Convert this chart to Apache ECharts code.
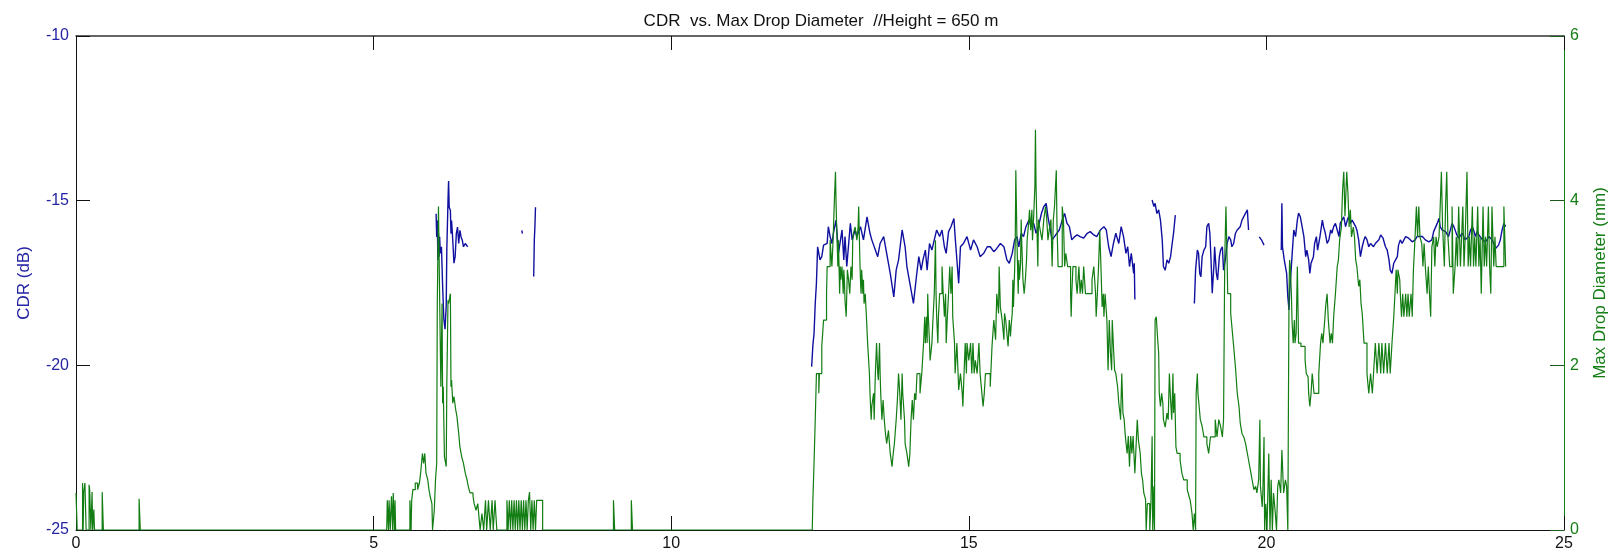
<!DOCTYPE html>
<html>
<head>
<meta charset="utf-8">
<script src="https://cdn.jsdelivr.net/npm/echarts@6/dist/echarts.min.js"></script>
<style>
html,body{margin:0;padding:0;background:#fff;}
#chart{width:1618px;height:556px;}
</style>
</head>
<body>
<div id="chart"></div>
<script>
// Time of day (h) and circular depolarization ratio (dB), one array per continuous stretch
const cdrShowerA = [[6.05,-15.4],[6.06,-16.1],[6.07,-15.6],[6.08,-16.8],[6.09,-16.0],[6.10,-16.7],[6.11,-16.1],[6.12,-16.6],[6.14,-16.4],[6.16,-17.6],[6.18,-18.6],[6.20,-18.9],[6.22,-18.2],[6.23,-16.5],[6.25,-15.0],[6.26,-14.4],[6.27,-15.2],[6.29,-15.3],[6.30,-16.0],[6.31,-15.6],[6.33,-16.2],[6.35,-16.9],[6.37,-16.7],[6.39,-16.0],[6.41,-15.8],[6.43,-16.3],[6.45,-15.9],[6.47,-16.1],[6.49,-16.2],[6.51,-16.4],[6.54,-16.3],[6.58,-16.4]];
const cdrShowerB = [[7.49,-15.9],[7.50,-16.0]];
const cdrShowerC = [[7.69,-17.3],[7.70,-16.2],[7.71,-15.8],[7.72,-15.2]];
const cdrEventA = [[12.36,-20.04],[12.38,-19.4],[12.40,-19.03],[12.42,-18.12],[12.44,-17.51],[12.46,-16.40],[12.48,-16.60],[12.50,-16.80],[12.53,-16.70],[12.56,-16.35],[12.62,-16.30],[12.64,-15.79],[12.67,-16.09],[12.70,-16.30],[12.73,-15.94],[12.77,-15.59],[12.81,-16.60],[12.87,-15.89],[12.90,-16.80],[12.92,-16.09],[12.95,-17.00],[13.01,-15.69],[13.04,-16.19],[13.09,-15.89],[13.12,-16.09],[13.18,-15.79],[13.23,-16.19],[13.29,-15.49],[13.34,-15.99],[13.37,-16.19],[13.43,-16.50],[13.47,-16.70],[13.51,-16.30],[13.57,-16.09],[13.62,-16.60],[13.68,-17.21],[13.74,-17.92],[13.78,-17.11],[13.82,-16.80],[13.88,-15.89],[13.93,-16.40],[13.96,-17.00],[14.02,-17.61],[14.07,-18.12],[14.12,-17.31],[14.16,-16.70],[14.20,-17.11],[14.23,-16.80],[14.27,-16.50],[14.30,-17.11],[14.34,-16.30],[14.38,-16.50],[14.42,-16.19],[14.46,-15.89],[14.51,-16.09],[14.55,-15.89],[14.59,-16.40],[14.62,-16.60],[14.66,-15.94],[14.70,-15.79],[14.75,-15.54],[14.77,-16.09],[14.80,-16.80],[14.83,-17.51],[14.86,-16.40],[14.91,-16.30],[14.97,-16.09],[15.03,-16.50],[15.08,-16.19],[15.14,-16.40],[15.19,-16.70],[15.25,-16.60],[15.31,-16.40],[15.36,-16.40],[15.42,-16.55],[15.47,-16.45],[15.53,-16.30],[15.59,-16.40],[15.64,-16.80],[15.68,-16.90],[15.73,-16.60],[15.77,-16.19],[15.81,-16.09],[15.84,-16.40],[15.88,-15.99],[15.92,-16.09],[15.96,-15.79],[16.01,-15.59],[16.05,-15.79],[16.09,-15.69],[16.13,-15.99],[16.17,-15.79],[16.22,-15.39],[16.26,-15.18],[16.30,-15.08],[16.33,-15.49],[16.37,-15.89],[16.40,-16.19],[16.44,-16.09],[16.48,-15.99],[16.52,-15.89],[16.57,-15.59],[16.61,-15.39],[16.65,-15.69],[16.69,-15.79],[16.73,-16.19],[16.78,-16.09],[16.82,-16.04],[16.87,-16.09],[16.93,-16.14],[16.99,-15.99],[17.04,-15.94],[17.10,-16.04],[17.15,-16.09],[17.21,-15.89],[17.27,-15.79],[17.31,-15.89],[17.35,-16.40],[17.39,-16.70],[17.43,-16.30],[17.47,-15.99],[17.52,-16.30],[17.56,-15.79],[17.60,-16.09],[17.64,-16.60],[17.67,-16.40],[17.70,-17.00],[17.73,-16.60],[17.77,-17.21],[17.78,-16.90],[17.79,-18.00]];
const cdrEventB = [[18.08,-14.98],[18.11,-15.18],[18.13,-15.08],[18.16,-15.39],[18.19,-15.28],[18.22,-15.59],[18.25,-16.19],[18.27,-17.00],[18.30,-17.11],[18.33,-16.80],[18.36,-16.90],[18.39,-16.70],[18.41,-16.40],[18.44,-15.99],[18.47,-15.44]];
const cdrEventC = [[18.79,-18.12],[18.81,-17.11],[18.84,-16.50],[18.86,-16.60],[18.88,-17.21],[18.90,-17.31],[18.92,-16.70],[18.95,-16.50],[18.98,-16.40],[19.00,-15.79],[19.03,-15.69],[19.05,-15.99],[19.07,-16.80],[19.09,-17.81],[19.12,-16.90],[19.13,-16.40],[19.16,-17.21],[19.18,-17.41],[19.21,-16.70],[19.23,-16.50],[19.26,-16.40],[19.28,-17.11],[19.31,-16.80],[19.34,-16.30],[19.37,-16.09],[19.40,-16.19],[19.42,-16.40],[19.45,-16.30],[19.48,-15.99],[19.51,-15.89],[19.54,-15.94],[19.56,-15.79],[19.59,-15.59],[19.62,-15.54],[19.65,-15.38],[19.68,-15.28],[19.70,-15.89]];
const cdrEventD = [[19.88,-16.10],[19.92,-16.20],[19.96,-16.35]];
const cdrEventE = [[20.25,-16.50],[20.26,-15.08],[20.27,-16.40],[20.30,-16.80],[20.34,-17.21],[20.36,-17.92],[20.38,-18.32],[20.39,-17.81],[20.43,-16.70],[20.46,-15.89],[20.49,-16.09],[20.52,-15.59],[20.54,-15.38],[20.57,-15.49],[20.60,-15.79],[20.63,-16.09],[20.66,-16.70],[20.68,-16.50],[20.71,-16.80],[20.73,-17.21],[20.75,-16.90],[20.79,-16.70],[20.81,-16.30],[20.84,-16.09],[20.86,-16.50],[20.90,-16.09],[20.94,-15.59],[20.96,-15.79],[20.99,-15.99],[21.02,-16.30],[21.05,-16.19],[21.08,-15.89],[21.10,-15.99],[21.13,-15.79],[21.16,-15.69],[21.19,-15.89],[21.22,-16.09],[21.24,-15.69],[21.27,-15.59],[21.30,-15.49],[21.33,-15.79],[21.36,-15.59],[21.38,-15.49],[21.41,-15.69],[21.44,-15.59],[21.47,-15.69],[21.50,-15.79],[21.52,-15.89],[21.55,-16.19],[21.58,-16.70],[21.61,-16.40],[21.64,-16.19],[21.66,-16.09],[21.69,-16.19],[21.72,-16.40],[21.75,-16.30],[21.80,-16.40],[21.83,-16.30],[21.89,-16.19],[21.92,-16.04],[21.96,-16.14],[22.00,-16.40],[22.03,-16.50],[22.06,-16.80],[22.08,-17.11],[22.11,-17.21],[22.14,-16.90],[22.17,-16.80],[22.20,-16.70],[22.22,-16.35],[22.25,-16.19],[22.28,-16.30],[22.31,-16.19],[22.34,-16.09],[22.36,-16.04],[22.39,-16.14],[22.42,-16.19],[22.45,-16.25],[22.48,-16.30],[22.50,-16.19],[22.53,-16.09],[22.56,-16.04],[22.62,-16.09],[22.67,-16.19],[22.73,-16.25],[22.78,-16.19],[22.81,-15.94],[22.84,-15.89],[22.87,-15.69],[22.90,-15.54],[22.92,-15.79],[22.95,-15.89],[23.01,-15.94],[23.06,-16.09],[23.12,-15.69],[23.15,-15.79],[23.18,-15.94],[23.20,-16.04],[23.23,-16.14],[23.26,-16.09],[23.29,-15.99],[23.34,-16.19],[23.40,-16.09],[23.43,-15.89],[23.46,-15.79],[23.49,-15.94],[23.51,-16.09],[23.54,-15.94],[23.57,-16.04],[23.60,-16.09],[23.63,-16.19],[23.68,-16.25],[23.74,-16.09],[23.79,-16.19],[23.82,-16.30],[23.85,-16.45],[23.88,-16.50],[23.90,-16.35],[23.93,-16.19],[23.96,-15.89],[23.99,-15.69],[24.02,-15.79]];

// Time of day (h) and maximum drop diameter (mm); each value holds until the next sample
const diamEarly = [[0.00,0.45],[0.02,0],[0.11,0.57],[0.12,0],[0.13,0.46],[0.15,0.57],[0.17,0],[0.22,0.55],[0.23,0.49],[0.25,0],[0.27,0.46],[0.28,0],[0.30,0.25],[0.31,0],[0.44,0.46],[0.46,0],[1.06,0.38],[1.08,0],[5.22,0]];
const diamShower = [[5.23,0.36],[5.25,0],[5.26,0.36],[5.28,0],[5.30,0.41],[5.32,0],[5.33,0.45],[5.35,0],[5.36,0.36],[5.37,0],[5.61,0.36],[5.63,0],[5.64,0.36],[5.66,0.49],[5.70,0.57],[5.74,0.49],[5.77,0.57],[5.79,0.69],[5.82,0.93],[5.84,0.81],[5.86,0.93],[5.88,0.69],[5.91,0.61],[5.93,0.49],[5.95,0.41],[5.98,0.32],[5.99,0],[6.02,0.24],[6.04,0.61],[6.06,0.81],[6.07,2.75],[6.09,3.93],[6.11,2.79],[6.13,1.74],[6.15,2.75],[6.16,1.54],[6.17,1.74],[6.19,0.89],[6.22,0.77],[6.23,1.74],[6.25,2.79],[6.26,2.75],[6.29,2.87],[6.30,1.74],[6.31,1.82],[6.33,1.54],[6.35,1.62],[6.38,1.46],[6.40,1.38],[6.43,1.17],[6.45,1.01],[6.48,0.89],[6.51,0.81],[6.54,0.69],[6.57,0.61],[6.59,0.53],[6.62,0.45],[6.67,0.41],[6.69,0.32],[6.72,0.24],[6.75,0.32],[6.77,0.16],[6.79,0],[6.82,0.20],[6.85,0],[6.88,0.36],[6.90,0],[6.93,0.36],[6.96,0],[6.99,0.36],[7.01,0],[7.04,0.36],[7.07,0],[7.24,0.36],[7.26,0],[7.28,0.36],[7.30,0],[7.32,0.36],[7.34,0],[7.36,0.36],[7.38,0],[7.40,0.36],[7.42,0],[7.44,0.36],[7.46,0],[7.48,0.36],[7.50,0],[7.52,0.36],[7.54,0],[7.56,0.36],[7.58,0],[7.60,0.36],[7.62,0.46],[7.64,0],[7.66,0.36],[7.68,0],[7.70,0.36],[7.72,0],[7.74,0.36],[7.84,0],[9.03,0.36],[9.05,0],[9.33,0.36],[9.35,0]];
const diamEventA = [[12.37,0],[12.38,0.36],[12.40,0.81],[12.42,1.34],[12.44,1.90],[12.48,1.66],[12.49,1.90],[12.53,2.23],[12.56,2.55],[12.61,2.87],[12.62,3.20],[12.67,3.52],[12.70,3.20],[12.72,3.52],[12.74,3.97],[12.76,4.35],[12.77,3.97],[12.78,3.68],[12.80,3.20],[12.81,3.52],[12.83,2.87],[12.84,3.20],[12.85,3.04],[12.87,3.20],[12.89,2.87],[12.90,3.16],[12.91,3.04],[12.92,2.79],[12.94,2.59],[12.95,2.87],[12.96,3.16],[12.98,3.04],[13.00,2.87],[13.02,3.20],[13.04,3.04],[13.05,3.52],[13.06,3.60],[13.09,3.68],[13.12,3.52],[13.14,3.68],[13.15,3.93],[13.17,3.28],[13.18,3.04],[13.19,2.87],[13.20,3.16],[13.22,2.87],[13.23,3.04],[13.24,2.75],[13.26,2.87],[13.28,2.59],[13.30,2.27],[13.33,1.90],[13.34,1.66],[13.36,1.34],[13.37,1.50],[13.40,1.66],[13.41,1.34],[13.43,1.90],[13.45,2.27],[13.47,1.90],[13.48,1.82],[13.50,2.27],[13.51,1.90],[13.52,1.66],[13.54,1.34],[13.56,1.58],[13.58,1.34],[13.60,1.17],[13.62,1.05],[13.65,1.21],[13.68,0.93],[13.71,0.77],[13.73,0.93],[13.75,1.05],[13.78,1.34],[13.80,1.58],[13.82,1.90],[13.84,1.66],[13.86,1.34],[13.88,1.90],[13.89,1.66],[13.92,1.34],[13.93,1.05],[13.96,0.93],[13.99,0.77],[14.01,0.93],[14.03,1.34],[14.05,1.58],[14.07,1.34],[14.09,1.66],[14.11,1.58],[14.13,1.90],[14.18,1.66],[14.21,1.90],[14.24,2.27],[14.26,2.59],[14.27,2.27],[14.29,2.59],[14.30,2.27],[14.31,2.87],[14.32,2.59],[14.34,2.27],[14.35,2.06],[14.38,2.27],[14.40,2.59],[14.42,2.87],[14.44,3.52],[14.45,2.87],[14.46,2.59],[14.48,2.27],[14.49,2.59],[14.51,2.87],[14.55,3.20],[14.57,2.87],[14.59,2.59],[14.61,2.87],[14.62,2.27],[14.64,2.59],[14.66,2.87],[14.68,3.20],[14.70,2.87],[14.72,3.20],[14.73,2.59],[14.76,2.27],[14.77,1.90],[14.80,2.27],[14.82,1.90],[14.83,1.70],[14.86,1.90],[14.89,1.66],[14.90,1.50],[14.92,1.90],[14.94,2.27],[14.96,1.90],[14.97,2.27],[15.00,2.06],[15.03,2.27],[15.05,1.90],[15.07,2.27],[15.09,1.90],[15.11,2.06],[15.14,1.90],[15.17,2.27],[15.19,1.90],[15.22,1.66],[15.24,1.50],[15.26,1.66],[15.28,1.90],[15.36,1.74],[15.39,2.23],[15.42,2.55],[15.45,2.31],[15.47,2.87],[15.50,2.63],[15.51,3.20],[15.53,2.71],[15.56,2.55],[15.59,2.31],[15.60,2.63],[15.62,2.55],[15.64,2.39],[15.66,2.23],[15.68,2.55],[15.70,2.35],[15.71,2.47],[15.73,2.63],[15.74,3.04],[15.75,2.71],[15.77,3.16],[15.78,3.48],[15.79,4.37],[15.81,3.48],[15.83,2.87],[15.84,3.28],[15.85,3.04],[15.87,3.24],[15.88,3.77],[15.89,3.48],[15.91,3.04],[15.93,2.87],[15.95,3.04],[15.97,3.28],[15.98,3.52],[16.01,3.77],[16.02,3.89],[16.04,3.64],[16.06,3.89],[16.07,3.52],[16.09,3.81],[16.11,4.17],[16.12,4.86],[16.13,4.17],[16.15,3.52],[16.16,3.20],[16.17,3.77],[16.20,3.64],[16.23,3.52],[16.26,3.77],[16.29,3.93],[16.31,3.77],[16.33,3.52],[16.35,3.64],[16.38,3.77],[16.40,3.20],[16.42,3.77],[16.44,3.93],[16.47,4.37],[16.48,3.77],[16.50,3.20],[16.57,3.93],[16.59,3.77],[16.61,3.20],[16.63,3.36],[16.66,3.20],[16.71,2.87],[16.72,2.59],[16.73,2.87],[16.75,3.20],[16.80,3.04],[16.82,2.87],[16.85,3.20],[16.87,2.87],[16.89,3.04],[16.91,2.87],[16.93,3.20],[16.96,2.87],[17.07,3.04],[17.10,3.20],[17.13,2.87],[17.14,2.59],[17.16,2.87],[17.18,3.20],[17.20,3.64],[17.22,3.20],[17.24,2.71],[17.26,2.87],[17.27,2.59],[17.29,2.87],[17.32,2.55],[17.34,1.94],[17.36,2.55],[17.38,2.15],[17.40,1.94],[17.41,2.55],[17.43,2.23],[17.45,1.94],[17.47,1.90],[17.50,1.74],[17.52,1.54],[17.54,1.42],[17.55,1.34],[17.57,1.90],[17.59,1.42],[17.61,1.34],[17.63,1.14],[17.66,0.93],[17.68,1.14],[17.70,0.77],[17.72,1.14],[17.74,0.93],[17.76,1.14],[17.79,0.69],[17.81,1.01],[17.83,1.34],[17.85,1.09],[17.88,0.93],[17.90,0.69],[17.92,0.61],[17.94,0.45],[17.97,0.37],[17.98,0],[18.00,0.32],[18.04,0],[18.06,0.32],[18.08,1.14],[18.09,0],[18.11,0.53],[18.12,0],[18.13,2.55],[18.15,2.59],[18.17,2.35],[18.19,2.15],[18.20,1.66],[18.22,1.50],[18.24,1.66],[18.26,1.54],[18.27,1.34],[18.30,1.25],[18.33,1.42],[18.35,1.34],[18.37,1.90],[18.39,1.58],[18.41,1.34],[18.43,1.90],[18.44,1.42],[18.46,1.66],[18.48,1.01],[18.50,0.93],[18.55,0.85],[18.58,0.69],[18.61,0.61]];
const diamEventB = [[18.67,0.49],[18.70,0.41],[18.72,0.36],[18.75,0.20],[18.77,0],[18.79,0.20],[18.81,0],[18.82,1.66],[18.84,1.90],[18.85,1.66],[18.87,1.50],[18.89,1.34],[18.92,1.26],[18.95,1.13],[19.00,1.05],[19.03,0.93],[19.06,1.13],[19.14,1.34],[19.17,1.13],[19.20,1.34],[19.23,1.26],[19.26,1.13],[19.28,1.34],[19.30,3.28],[19.32,3.93],[19.34,3.28],[19.35,2.87],[19.40,2.63],[19.42,2.47],[19.45,2.23],[19.48,1.98],[19.51,1.66],[19.54,1.50],[19.56,1.30],[19.59,1.17],[19.62,1.13],[19.65,1.05],[19.68,0.93],[19.70,0.85],[19.73,0.73],[19.76,0.61],[19.79,0.49],[19.82,0.53],[19.84,0.45],[19.87,0.61],[19.89,1.34],[19.90,0.53],[19.93,0.28],[19.94,0.45],[19.96,1.13],[19.97,0],[19.99,0.32],[20.01,0],[20.04,0.93],[20.06,0],[20.08,0.61],[20.10,0],[20.12,0.45],[20.15,0.20],[20.17,0],[20.19,0.53],[20.21,0.61],[20.24,0.45],[20.26,0.97],[20.28,0.61],[20.29,0.45],[20.32,0.61],[20.34,0.53],[20.36,0],[20.37,1.50],[20.38,2.87],[20.39,3.28],[20.40,3.20],[20.42,2.87],[20.43,2.55],[20.45,2.27],[20.47,2.55],[20.48,2.27],[20.50,2.39],[20.52,3.20],[20.54,2.27],[20.58,2.23],[20.65,2.06],[20.67,1.90],[20.70,1.86],[20.71,1.66],[20.73,1.50],[20.75,1.66],[20.77,1.90],[20.80,1.66],[20.88,1.90],[20.91,2.27],[20.93,2.39],[20.95,2.27],[20.98,2.55],[21.00,2.75],[21.02,2.87],[21.04,2.55],[21.07,2.27],[21.09,2.39],[21.11,2.27],[21.13,2.59],[21.16,2.87],[21.19,3.20],[21.21,3.28],[21.23,3.52],[21.26,3.68],[21.28,4.13],[21.30,4.35],[21.32,3.81],[21.35,4.35],[21.37,4.09],[21.39,3.68],[21.41,3.89],[21.43,3.56],[21.46,3.68],[21.48,3.56],[21.50,3.28],[21.52,3.20],[21.55,2.96],[21.57,3.04],[21.59,2.75],[21.61,2.63],[21.64,2.27],[21.69,1.90],[21.72,1.66],[21.75,1.90],[21.78,1.66],[21.80,1.90],[21.83,2.27],[21.86,1.90],[21.89,2.27],[21.92,1.90],[21.94,2.27],[21.97,1.90],[22.00,2.27],[22.03,1.90],[22.06,2.27],[22.08,1.90],[22.11,2.27],[22.14,2.59],[22.16,2.87],[22.18,3.16],[22.20,2.87],[22.21,3.16],[22.24,3.04],[22.25,2.87],[22.27,2.59],[22.29,2.87],[22.31,2.59],[22.34,2.87],[22.36,2.59],[22.38,2.87],[22.40,2.59],[22.43,2.87],[22.45,2.59],[22.47,3.16],[22.49,3.44],[22.52,3.93],[22.54,3.56],[22.56,3.93],[22.58,3.56],[22.61,3.48],[22.63,3.20],[22.65,3.48],[22.67,3.20],[22.70,2.87],[22.72,3.20],[22.74,2.87],[22.76,2.59],[22.78,3.44],[22.81,3.56],[22.83,3.20],[22.85,3.56],[22.87,3.44],[22.90,3.56],[22.92,3.93],[22.94,4.35],[22.96,3.68],[22.99,3.20],[23.01,3.93],[23.03,4.35],[23.05,3.56],[23.08,3.20],[23.12,3.93],[23.14,2.87],[23.17,3.20],[23.19,3.56],[23.21,3.20],[23.23,3.93],[23.26,3.20],[23.28,3.56],[23.30,3.93],[23.32,3.20],[23.34,3.56],[23.37,4.35],[23.39,3.20],[23.41,3.56],[23.43,3.20],[23.46,3.93],[23.48,3.20],[23.50,3.56],[23.52,3.20],[23.55,3.93],[23.57,3.20],[23.59,3.56],[23.61,2.87],[23.64,3.93],[23.66,3.20],[23.68,3.56],[23.70,3.20],[23.73,3.93],[23.75,3.20],[23.77,2.87],[23.79,3.93],[23.82,3.20],[23.84,3.56],[23.86,3.20],[23.99,3.93],[24.00,3.68],[24.02,3.20]];

// Axis tick values
const hourTicks = [0, 5, 10, 15, 20, 25];
const cdrTicks = [-25, -20, -15, -10];
const diamTicks = [0, 2, 4, 6];

const FONT = '"Liberation Sans", Arial, Helvetica, sans-serif';
const BLUE = '#1010a0';
const BLUE_TEXT = '#2424a4';
const GREEN = '#127d12';

const cdrSegments = [cdrShowerA, cdrShowerB, cdrShowerC, cdrEventA, cdrEventB, cdrEventC, cdrEventD, cdrEventE];
const diamSeries = [].concat(diamEarly, diamShower, diamEventA, diamEventB);

const step = a => a[1] - a[0];

const xAxisBase = {
  type: 'value',
  min: hourTicks[0],
  max: hourTicks[hourTicks.length - 1],
  interval: step(hourTicks),
  splitLine: { show: false },
  axisTick: { inside: true, length: 14, lineStyle: { color: '#111', width: 1 } }
};

const chart = echarts.init(document.getElementById('chart'), null, { renderer: 'canvas' });
chart.setOption({
  animation: false,
  backgroundColor: '#ffffff',
  textStyle: { fontFamily: FONT },
  title: {
    text: 'CDR  vs. Max Drop Diameter  //Height = 650 m',
    left: 816,
    top: 8,
    textAlign: 'center',
    textStyle: { fontFamily: FONT, fontSize: 17, fontWeight: 'normal', color: '#111' }
  },
  grid: { left: 76, right: 54, top: 36, bottom: 26, containLabel: false },
  xAxis: [
    Object.assign({}, xAxisBase, {
      position: 'bottom',
      axisLine: { show: true, onZero: false, lineStyle: { color: '#111', width: 1 } },
      axisLabel: { show: true, margin: 6, fontSize: 16, color: '#111', fontFamily: FONT }
    }),
    Object.assign({}, xAxisBase, {
      position: 'top',
      axisLine: { show: true, onZero: false, lineStyle: { color: '#333', width: 1.5 } },
      axisLabel: { show: false }
    })
  ],
  yAxis: [
    {
      type: 'value',
      position: 'left',
      min: cdrTicks[0],
      max: cdrTicks[cdrTicks.length - 1],
      interval: step(cdrTicks),
      splitLine: { show: false },
      axisLine: { show: true, onZero: false, lineStyle: { color: '#111', width: 1 } },
      axisTick: { show: true, inside: true, length: 14, lineStyle: { color: '#111' } },
      axisLabel: { margin: 7, fontSize: 16, color: BLUE_TEXT, fontFamily: FONT },
      name: 'CDR (dB)',
      nameLocation: 'middle',
      nameRotate: 90,
      nameGap: 43,
      nameTextStyle: { fontSize: 17, color: BLUE_TEXT, fontFamily: FONT }
    },
    {
      type: 'value',
      position: 'right',
      min: diamTicks[0],
      max: diamTicks[diamTicks.length - 1],
      interval: step(diamTicks),
      splitLine: { show: false },
      axisLine: { show: true, onZero: false, lineStyle: { color: GREEN, width: 1 } },
      axisTick: { show: true, inside: true, length: 14, lineStyle: { color: '#1a5a1a' } },
      axisLabel: { margin: 6, fontSize: 16, color: GREEN, fontFamily: FONT },
      name: 'Max Drop Diameter (mm)',
      nameLocation: 'middle',
      nameRotate: 90,
      nameGap: 28,
      nameTextStyle: { fontSize: 17, color: GREEN, fontFamily: FONT }
    }
  ],
  series: cdrSegments.map(seg => ({
    type: 'line',
    xAxisIndex: 0,
    yAxisIndex: 0,
    data: seg,
    showSymbol: false,
    symbol: 'none',
    z: 2,
    lineStyle: { color: BLUE, width: 1.4 }
  })).concat([{
    type: 'line',
    xAxisIndex: 0,
    yAxisIndex: 1,
    data: diamSeries,
    step: 'end',
    showSymbol: false,
    symbol: 'none',
    z: 3,
    lineStyle: { color: GREEN, width: 1.2 }
  }])
});
</script>
</body>
</html>
